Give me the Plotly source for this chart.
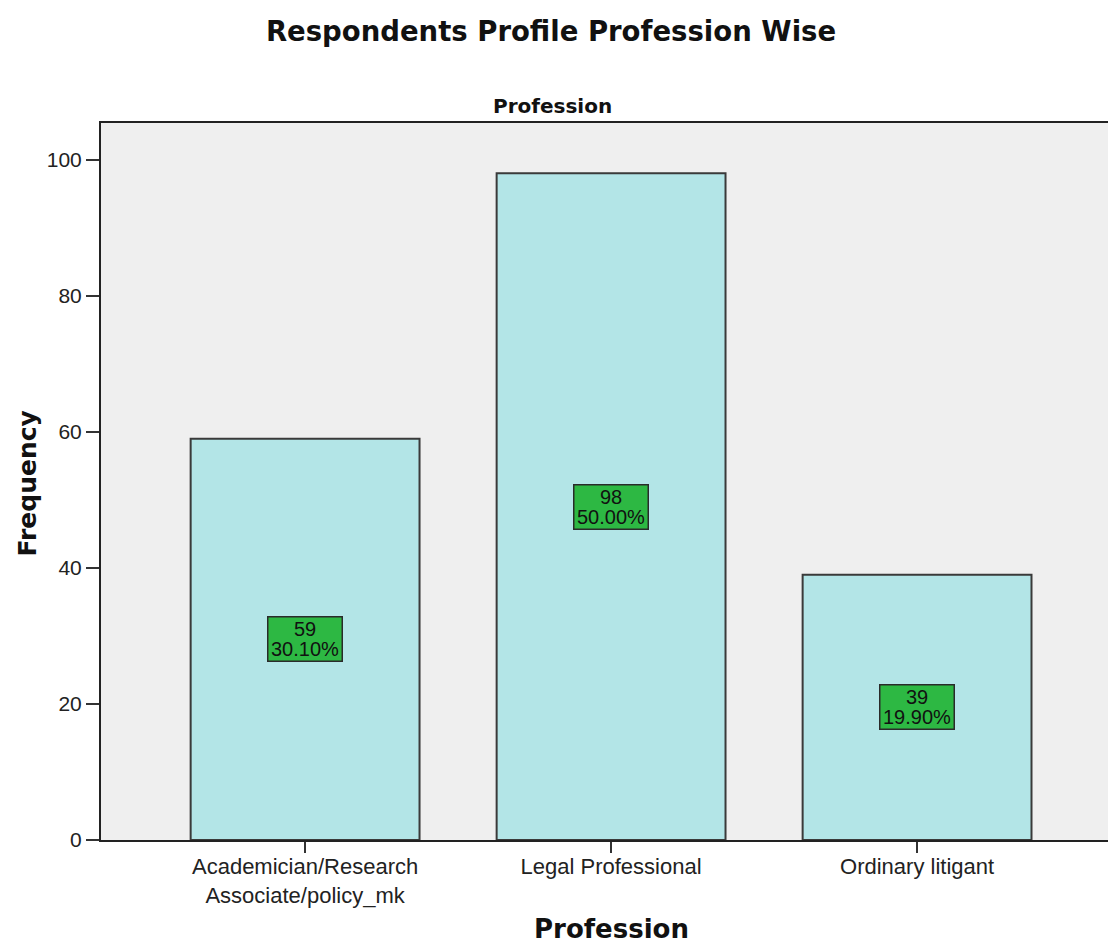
import plotly.graph_objects as go

# Respondent counts by profession
categories = ["Academician/Research<br>Associate/policy_mk", "Legal Professional", "Ordinary litigant"]
frequency = [59, 98, 39]
percent = ["30.10%", "50.00%", "19.90%"]
y_ticks = [0, 20, 40, 60, 80, 100]

REG = "Liberation Sans, Arial, sans-serif"
BOLD = "DejaVu Sans, Verdana, sans-serif"

fig = go.Figure()
fig.add_trace(go.Bar(
    x=categories,
    y=frequency,
    width=0.748,
    marker=dict(color="#b3e5e7", line=dict(color="#3a3a3a", width=2)),
    hoverinfo="skip",
))

# Count / percentage boxes at the middle of each bar
for cat, val, pct in zip(categories, frequency, percent):
    fig.add_annotation(
        x=cat, y=val / 2, xref="x", yref="y", text=" ", showarrow=False,
        bgcolor="#2db843", bordercolor="#2a2a2a", borderwidth=1.5,
        borderpad=0, width=73, height=43,
    )
    fig.add_annotation(
        x=cat, y=val / 2, xref="x", yref="y", text=str(val), showarrow=False,
        yshift=10, font=dict(family=REG, size=20, color="#111111"),
    )
    fig.add_annotation(
        x=cat, y=val / 2, xref="x", yref="y", text=pct, showarrow=False,
        yshift=-10, font=dict(family=REG, size=20, color="#111111"),
    )

# Panel label above the plot area
fig.add_annotation(
    x=0.5, y=1.0, xref="paper", yref="paper", yanchor="middle", yshift=17,
    xshift=-52,
    text="<b>Profession</b>", showarrow=False,
    font=dict(family=BOLD, size=20, color="#111111"),
)

# Axis titles
fig.add_annotation(
    x=0.5, y=-0.1241, xref="paper", yref="paper", xshift=7,
    xanchor="center", yanchor="middle",
    text="<b>Profession</b>", showarrow=False,
    font=dict(family=BOLD, size=26, color="#111111"),
)
fig.add_annotation(
    x=-0.0725, y=0.5, xref="paper", yref="paper", yshift=-2,
    xanchor="center", yanchor="middle", textangle=-90,
    text="<b>Frequency</b>", showarrow=False,
    font=dict(family=BOLD, size=25, color="#111111"),
)

fig.update_layout(
    width=1108, height=945,
    margin=dict(l=101, r=0, t=123, b=105),
    paper_bgcolor="white",
    plot_bgcolor="#efefef",
    showlegend=False,
    title=dict(
        text="<b>Respondents Profile Profession Wise</b>",
        x=551 / 1108, xref="container", xanchor="center",
        y=1 - 31 / 945, yref="container", yanchor="middle",
        font=dict(family=BOLD, size=27.5, color="#111111"),
    ),
    font=dict(family=REG, size=22, color="#222222"),
)

fig.update_xaxes(
    range=[-0.667, 2.624], automargin=False,
    showline=True, linecolor="#222222", linewidth=2, mirror=True,
    ticks="outside", ticklen=11, tickwidth=2, tickcolor="#333333",
    ticklabelstandoff=-5,
    tickfont=dict(family=REG, size=22, color="#222222"),
    showgrid=False, zeroline=False,
)
fig.update_yaxes(
    range=[0, 105.4], automargin=False,
    tickvals=y_ticks,
    showline=True, linecolor="#222222", linewidth=2,
    ticks="outside", ticklen=13, tickwidth=2, tickcolor="#333333",
    tickfont=dict(family=REG, size=21, color="#222222"),
    showgrid=False, zeroline=False,
)

fig.write_html("out.html")
